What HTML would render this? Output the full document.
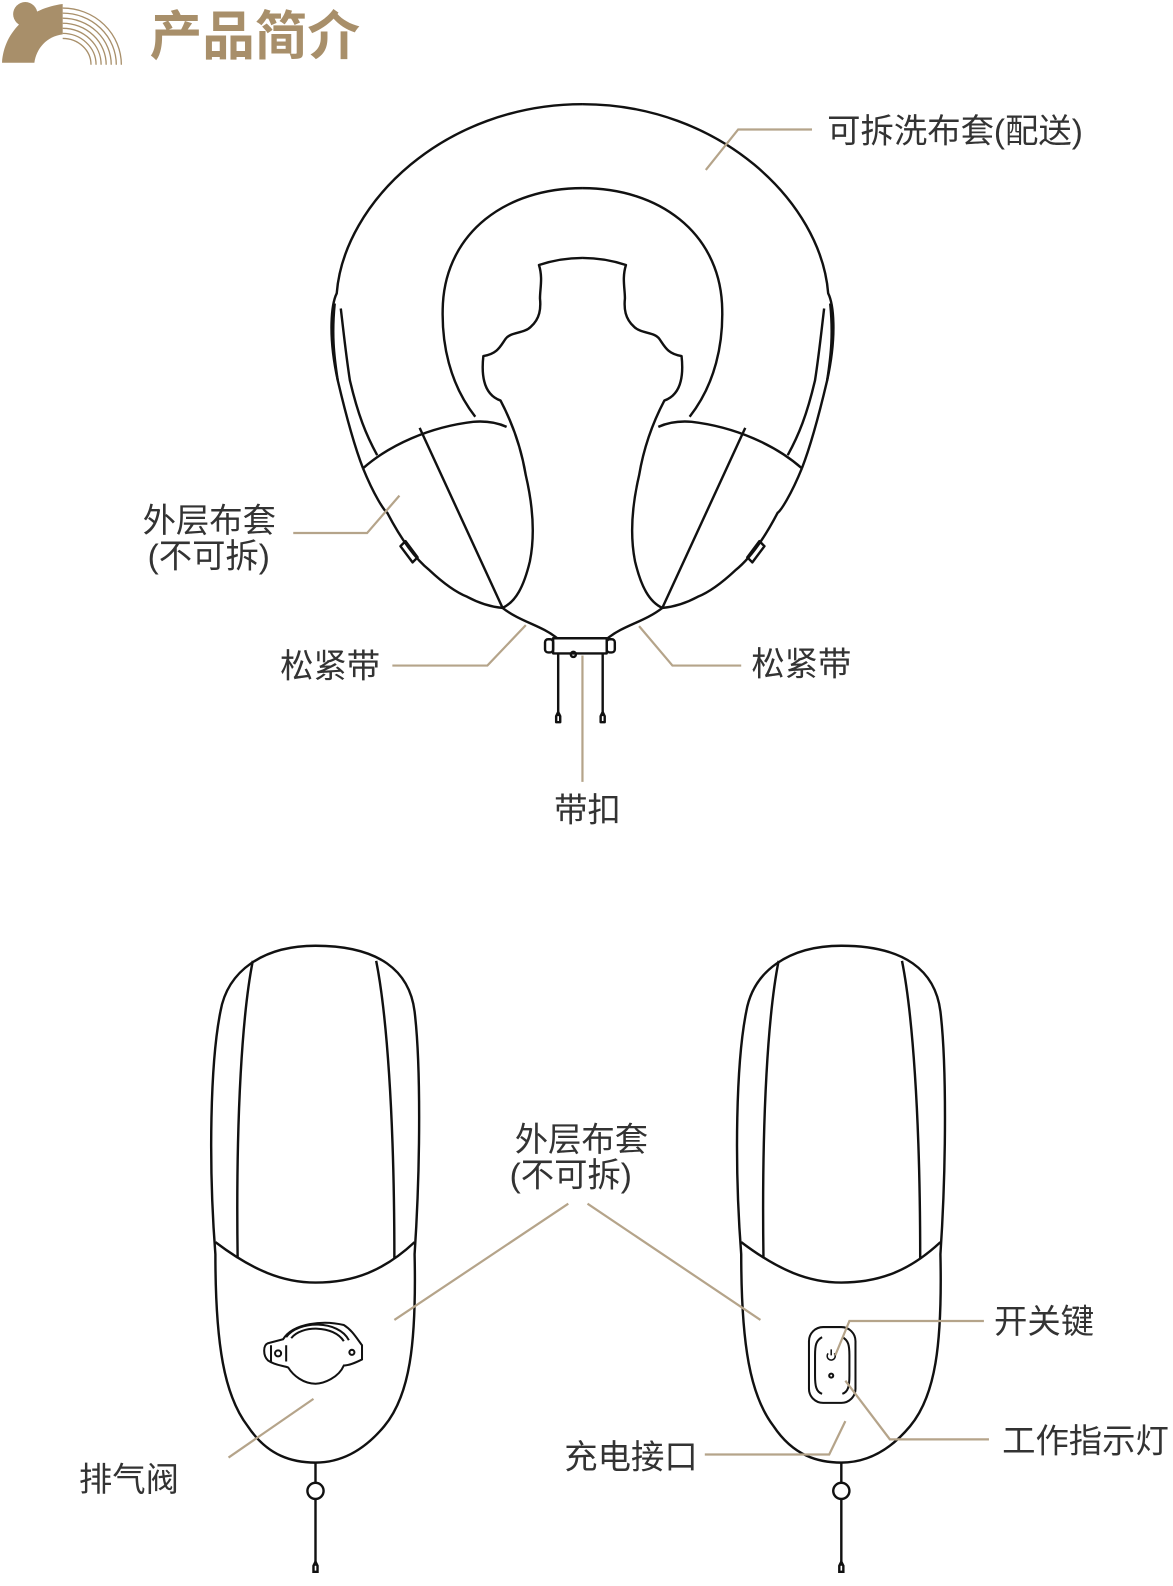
<!DOCTYPE html>
<html><head><meta charset="utf-8"><style>
html,body{margin:0;padding:0;background:#fff;}
svg{display:block;}
text{font-family:"Liberation Sans","Noto Sans CJK SC",sans-serif;fill:#333;}
</style></head><body>
<svg width="1173" height="1586" viewBox="0 0 1160 1568" preserveAspectRatio="none" xmlns="http://www.w3.org/2000/svg">
<!-- logo -->
<g fill="#a88f6a">
<circle cx="25" cy="14" r="12"/>
<path d="M2 62 C4 30 30 8 62 4 L62 34 C46 36 36 48 34 62 Z"/>
</g>
<g fill="none" stroke="#a88f6a" stroke-width="1.3">
<path d="M62 8 A58 56 0 0 1 120 64"/>
<path d="M62 13 A53 51 0 0 1 115 64"/>
<path d="M62 18 A48 46 0 0 1 110 64"/>
<path d="M62 23 A43 41 0 0 1 105 64"/>
<path d="M62 28 A38 36 0 0 1 100 64"/>
<path d="M62 33 A33 31 0 0 1 95 64"/>
<path d="M62 38 A28 26 0 0 1 90 64"/>
</g>
<text x="148" y="54" style="font-size:52px;font-weight:bold;fill:#a88f6a">产品简介</text>

<!-- U pillow -->
<g fill="none" stroke="#111" stroke-width="2.4" stroke-linejoin="round">
<g id="half">
<path d="M334 376 C324 330 328 300 333 290 C340 200 440 103 576 103"/>
<path d="M331 300 C328 330 330 350 334 376 C342 410 350 440 359 463"/>
<path d="M337 305 C340 330 342 350 346 376 C354 410 362 430 373 450"/>
<path d="M470 412 C445 380 436 340 438 300 C442 230 500 186 576 186"/>
<path d="M576 255 C560 255 545 258 533 262 C537 275 534 285 534 295 C535 305 534 315 525 323 C518 330 505 328 500 335 C495 342 492 350 478 352 C476 370 478 390 495 396 C505 415 515 440 520 470 C527 500 529 530 524 555 C518 580 510 595 497 601"/>
<path d="M359 463 C385 440 425 422 468 417 C480 416 492 418 501 422"/>
<path d="M359 463 C370 490 380 505 383 507 C395 530 410 552 425 564 C440 578 452 586 462 590 C475 597 486 600 497 601"/>
<path d="M415 423 L497 601"/>
<path d="M497 601 C515 615 535 618 551 631"/>
<path d="M401 535 L413 551 L408 556 L396 540 Z"/>
</g>
<use href="#half" transform="translate(1152,0) scale(-1,1)"/>
<rect x="547" y="631" width="53" height="15"/>
<rect x="539" y="632" width="8" height="13" rx="3"/>
<rect x="600" y="632" width="8" height="13" rx="3"/>
<circle cx="567" cy="647" r="2.5"/>
<path d="M552 646 L552 708 M596 646 L596 708"/>
<path d="M550 708 L552 704 L554 708 L554 714 L550 714 Z M594 708 L596 704 L598 708 L598 714 L594 714 Z"/>
</g>

<!-- bottom pods -->
<g id="pod" fill="none" stroke="#111" stroke-width="2.4">
<path d="M213 1240 C206 1150 208 1050 218 1000 C225 960 260 935 312 935 C375 935 405 960 410 1000 C416 1050 416 1150 410 1240 C412 1330 405 1380 380 1410 C355 1440 330 1446 312 1446 C290 1446 265 1440 245 1410 C222 1380 213 1330 213 1240 Z"/>
<path d="M250 950 C240 1000 233 1100 235 1244"/>
<path d="M372 950 C382 1000 390 1100 390 1244"/>
<path d="M213 1228 C250 1256 280 1268 312 1268 C350 1268 380 1256 410 1228"/>
<path d="M312 1446 L312 1466 M312 1482 L312 1548"/>
<circle cx="312" cy="1474" r="8"/>
<path d="M310 1548 L312 1544 L314 1548 L314 1554 L310 1554 Z"/>
</g>
<use href="#pod" transform="translate(520,0)"/>
<g fill="none" stroke="#111" stroke-width="2">
<path d="M280 1324 C290 1308 320 1305 340 1310 C348 1315 352 1322 358 1330 L358 1344 C350 1348 345 1350 340 1350 C335 1362 320 1368 312 1368 C300 1368 290 1360 285 1352 C280 1350 272 1350 265 1345 C260 1340 260 1330 265 1328 Z"/>
<path d="M283 1322 C295 1305 335 1305 345 1325 M288 1323 C298 1310 330 1310 340 1326"/>
<path d="M268 1330 L268 1346 M283 1330 L283 1346"/>
<circle cx="275" cy="1338" r="3"/><circle cx="348" cy="1337" r="2.5"/>
<rect x="800" y="1312" width="46" height="75" rx="14"/>
<path d="M813 1322 C807 1325 806 1330 806 1340 L806 1360 C806 1370 807 1376 813 1378 M833 1322 C839 1325 840 1330 840 1340 L840 1360 C840 1370 839 1376 833 1378"/>
<circle cx="822" cy="1360" r="2"/>
<path d="M819 1338 A4 4 0 1 0 825 1338 M822 1334 L822 1340" stroke-width="1.5"/>
</g>

<!-- leaders -->
<g fill="none" stroke="#b5a48a" stroke-width="2.2">
<path d="M698 168 L730 128 L803 128"/>
<path d="M290 527 L363 527 L395 490"/>
<path d="M388 658 L482 658 L520 618"/>
<path d="M632 619 L665 658 L733 658"/>
<path d="M576 648 L576 773"/>
<path d="M390 1305 L562 1190 M581 1190 L752 1305"/>
<path d="M226 1441 L310 1383"/>
<path d="M826 1340 L840 1306 L973 1306"/>
<path d="M836 1365 L880 1423 L978 1423"/>
<path d="M697 1438 L820 1438 L836 1405"/>
</g>

<!-- labels -->
<g style="font-size:33px">
<text x="818" y="141">可拆洗布套(配送)</text>
<text x="141" y="526">外层布套</text>
<text x="146" y="561">(不可拆)</text>
<text x="277" y="670">松紧带</text>
<text x="743" y="668">松紧带</text>
<text x="548" y="812">带扣</text>
<text x="509" y="1138">外层布套</text>
<text x="504" y="1173">(不可拆)</text>
<text x="983" y="1318">开关键</text>
<text x="991" y="1436">工作指示灯</text>
<text x="558" y="1452">充电接口</text>
<text x="78" y="1474">排气阀</text>
</g>
</svg>
</body></html>
